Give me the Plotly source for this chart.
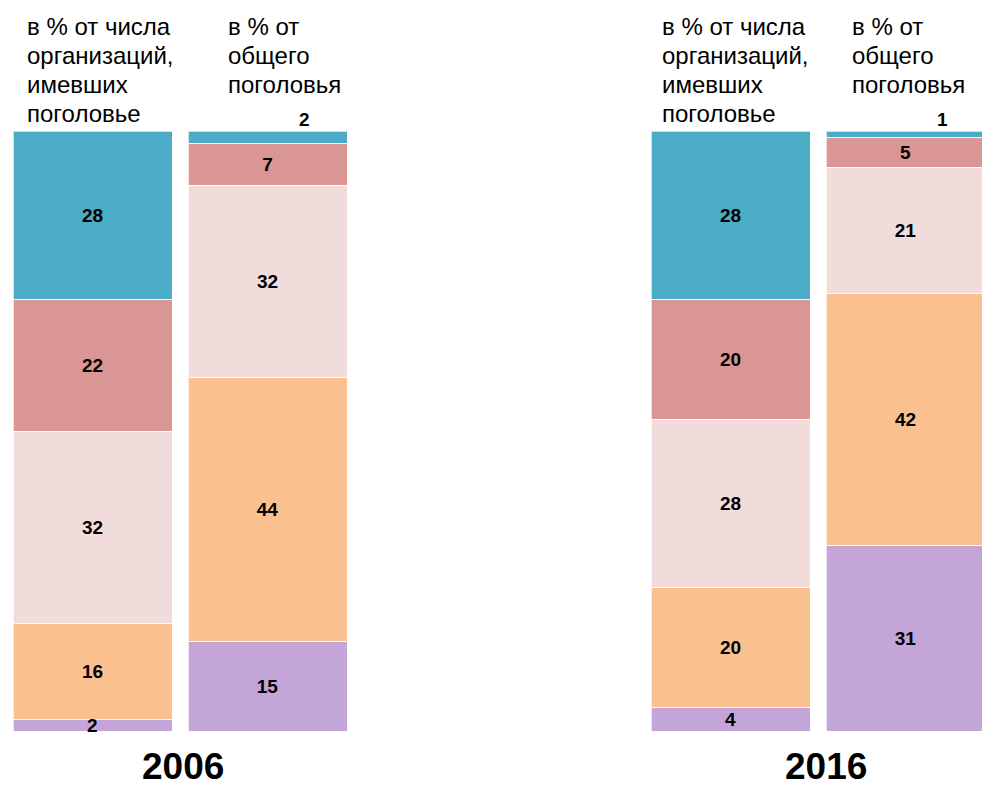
import plotly.graph_objects as go

# ---- data ----
bar_labels = ["в % от числа организаций, имевших поголовье", "в % от общего поголовья"]
years = ["2006", "2016"]
header_org = ["в % от числа", "организаций,", "имевших", "поголовье"]
header_pog = ["в % от", "общего", "поголовья"]

# stacked layers from bottom to top; per year: [организации, поголовье]
layer_purple = {"2006": [2, 15], "2016": [4, 31]}
layer_orange = {"2006": [16, 44], "2016": [20, 42]}
layer_lpink = {"2006": [32, 32], "2016": [28, 21]}
layer_red = {"2006": [22, 7], "2016": [20, 5]}
layer_teal = {"2006": [28, 2], "2016": [28, 1]}

layers = [layer_purple, layer_orange, layer_lpink, layer_red, layer_teal]
colors = ["#C3A5D7", "#FAC090", "#F2DCDB", "#D99694", "#4BACC6"]

# page body has an 8px margin, so the figure is sized to fit the window
W, H = 982, 782
T, B = 123, 59
PH = H - T - B  # plot-area height in px
SLOT = 175  # px per category slot
FONT = "Arial, Liberation Sans, sans-serif"

fig = go.Figure()

axes = {"2006": ("x", "y"), "2016": ("x2", "y2")}
small = 3  # segments below this value get their label as an annotation

annotations = []
for yr in years:
    xa, ya = axes[yr]
    for li, layer in enumerate(layers):
        vals = layer[yr]
        texts = [str(v) if v > small else "" for v in vals]
        fig.add_trace(go.Bar(
            x=bar_labels, y=vals, xaxis=xa, yaxis=ya,
            marker=dict(color=colors[li], line=dict(color="rgba(255,255,255,0.7)", width=1)),
            text=texts, textposition="inside", insidetextanchor="middle",
            textangle=0, constraintext="none",
            textfont=dict(family=FONT, size=19, color="black", weight="bold"),
            showlegend=False, hoverinfo="skip",
        ))
    for bi, cat in enumerate(bar_labels):
        base = 0
        for li, layer in enumerate(layers):
            v = layer[yr][bi]
            if v <= small:
                top_layer = li == len(layers) - 1
                if top_layer and bi == 1:
                    annotations.append(dict(
                        x=cat, y=base + v, xref=xa, yref=ya, text=f"<b>{v}</b>",
                        showarrow=False, xshift=37, yanchor="bottom", yshift=-1,
                        font=dict(family=FONT, size=19, color="black")))
                else:
                    annotations.append(dict(
                        x=cat, y=base + v / 2, xref=xa, yref=ya, text=f"<b>{v}</b>",
                        showarrow=False, yanchor="middle",
                        font=dict(family=FONT, size=19, color="black")))
            base += v
    annotations.append(dict(
        x=0.5, y=0, xref=f"{xa} domain", yref="paper", yshift=-35,
        xshift=0 if yr == "2006" else 7,
        text=f"<b>{yr}</b>", showarrow=False, yanchor="middle",
        font=dict(family=FONT, size=37, color="black")))

hdr_font = dict(family=FONT, size=24, color="black")
LINE = 29  # px between header lines
for xpx, lines in [(17, header_org), (218, header_pog), (652, header_org), (842, header_pog)]:
    for k, line in enumerate(lines):
        annotations.append(dict(
            x=xpx / W, y=1 + (T - 3 - k * LINE) / PH, xref="paper", yref="paper",
            yanchor="top", text=line, align="left", xanchor="left",
            showarrow=False, font=hdr_font))

# axis domains / ranges place the category slots in pixels
c1_06, d06 = 84.5, (0, 350)
c1_16, d16 = 722.5, (640, 982)
r06 = -(c1_06 - d06[0]) / SLOT
r16 = -(c1_16 - d16[0]) / SLOT

fig.update_layout(
    width=W, height=H,
    margin=dict(l=0, r=0, t=T, b=B),
    paper_bgcolor="white", plot_bgcolor="white",
    barmode="stack", bargap=16 / SLOT,
    annotations=annotations,
    xaxis=dict(domain=[d06[0] / W, d06[1] / W], range=[r06, r06 + (d06[1] - d06[0]) / SLOT],
               visible=False, anchor="y"),
    yaxis=dict(range=[0, 100], visible=False, anchor="x"),
    xaxis2=dict(domain=[d16[0] / W, d16[1] / W], range=[r16, r16 + (d16[1] - d16[0]) / SLOT],
                visible=False, anchor="y2"),
    yaxis2=dict(range=[0, 100], visible=False, anchor="x2"),
)

fig.write_html("out.html")
